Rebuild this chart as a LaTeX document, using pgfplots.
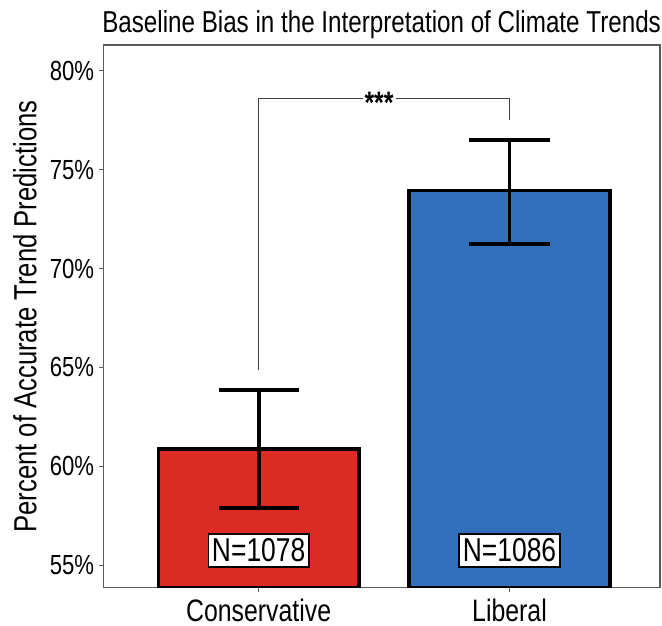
\documentclass[border=0pt]{standalone}
\usepackage{fontspec}
\setmainfont{Liberation Sans}[FakeStretch=0.80]
\usepackage{pgfplots}
\pgfplotsset{compat=1.18}
\definecolor{cCons}{RGB}{220,42,36}
\definecolor{cLib}{RGB}{50,112,188}
\definecolor{cFrame}{RGB}{90,90,90}

\pgfplotstableread{
x  y      eplus  eminus
0  60.86  2.98   2.98
}\consdata
\pgfplotstableread{
x  y      eplus  eminus
1  73.94  2.56   2.68
}\libdata

\begin{document}
\begin{tikzpicture}
\begin{axis}[
    scale only axis,
    width=278pt, height=271pt,
    xmin=-0.62, xmax=1.6,
    ymin=53.85, ymax=81.3,
    ybar, bar width=0.8, bar shift=0pt,
    xtick={0,1}, xticklabels={Conservative,Liberal},
    ytick={55,60,65,70,75,80},
    yticklabel={\pgfmathprintnumber{\tick}\%},
    /pgf/number format/assume math mode=true,
    xtick pos=bottom, ytick pos=left,
    xticklabel style={font=\fontsize{15.5}{17}\selectfont, yshift=0pt},
    yticklabel style={font=\fontsize{13.8}{15}\selectfont, xshift=1pt},
    ylabel={Percent of Accurate Trend Predictions},
    ylabel style={font=\fontsize{16}{17}\selectfont, yshift=2pt, inner sep=1pt},
    title={Baseline Bias in the Interpretation of Climate Trends},
    title style={font=\fontsize{15.1}{17}\selectfont, yshift=-6.5pt, inner xsep=0pt},
    axis line style={cFrame, line width=0.6pt},
    tick style={cFrame, line width=0.6pt},
    tick align=outside, major tick length=2pt,
    clip=true,
]
\addplot[fill=cCons, draw=black, line width=1.8pt,
    error bars/.cd, y dir=both, y explicit,
    error bar style={black, line width=1.9pt},
    error mark options={rotate=90, mark size=20pt, black, line width=1.9pt}]
    table[x=x, y=y, y error plus=eplus, y error minus=eminus] {\consdata};
\addplot[fill=cLib, draw=black, line width=1.8pt,
    error bars/.cd, y dir=both, y explicit,
    error bar style={black, line width=1.9pt},
    error mark options={rotate=90, mark size=20pt, black, line width=1.9pt}]
    table[x=x, y=y, y error plus=eplus, y error minus=eminus] {\libdata};
% significance bracket
\addplot[sharp plot, draw=black!75, line width=0.5pt, fill=none]
    coordinates {(0,64.85) (0,78.62) (1,78.62) (1,77.5)};
\node[fill=white, inner xsep=1pt, inner ysep=0pt, xshift=-2.5pt, yshift=-2.6pt,
    font=\fontsize{15.5}{16}\selectfont\bfseries]
    at (axis cs:0.5,78.62) {***};
\node[draw=black, fill=white, line width=0.8pt, inner xsep=1.8pt, inner ysep=2.4pt,
    font=\fontsize{16.5}{17}\selectfont] at (axis cs:0,55.75) {N=1078};
\node[draw=black, fill=white, line width=0.8pt, inner xsep=1.8pt, inner ysep=2.4pt,
    font=\fontsize{16.5}{17}\selectfont] at (axis cs:1,55.75) {N=1086};
\end{axis}
% margins of the original figure around the axis box
\pgfresetboundingbox
\path ([shift={(-51.5pt,-19pt)}]current axis.south west)
    rectangle ([shift={(1pt,22.5pt)}]current axis.north east);
\end{tikzpicture}
\end{document}
